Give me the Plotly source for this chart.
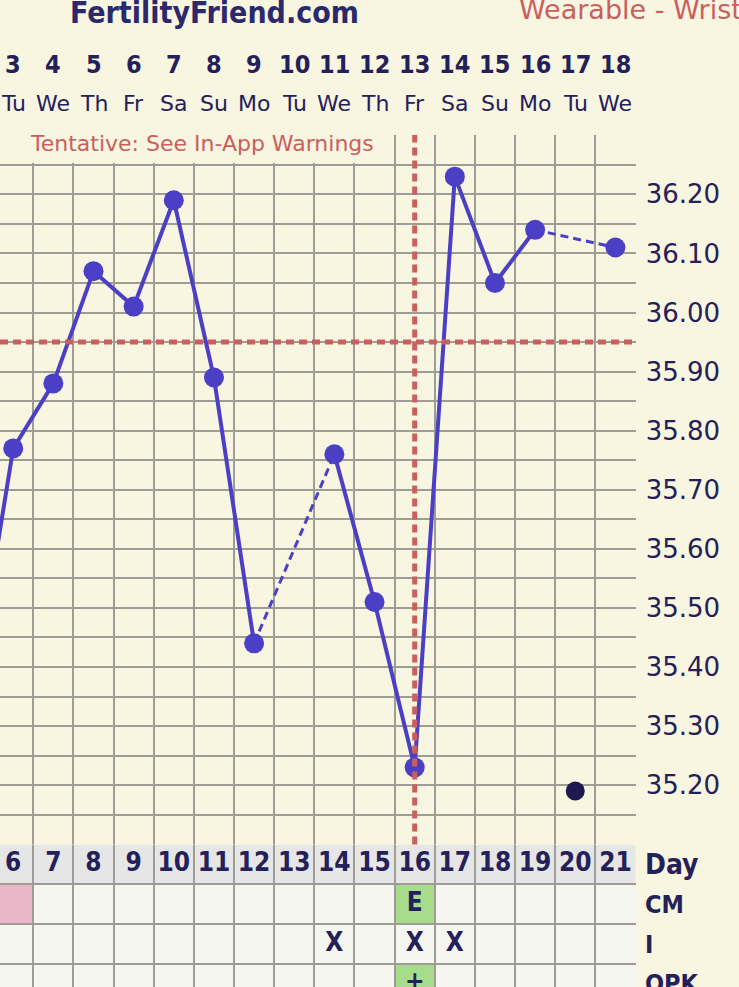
"""FertilityFriend-style BBT chart: wrist wearable temps with day table."""

import plotly.graph_objects as go
from plotly.subplots import make_subplots

W, H = 739, 987

# ---- data ----
cycle_days = list(range(6, 22))
dates = list(range(3, 19))
weekdays = ["Tu", "We", "Th", "Fr", "Sa", "Su", "Mo", "Tu",
            "We", "Th", "Fr", "Sa", "Su", "Mo", "Tu", "We"]

temp_days = [5, 6, 7, 8, 9, 10, 11, 12, 14, 15, 16, 17, 18, 19, 21]
temps = [35.35, 35.77, 35.88, 36.07, 36.01, 36.19, 35.89, 35.44,
         35.76, 35.51, 35.23, 36.23, 36.05, 36.14, 36.11]
# segments joined with a dashed line (gap days)
dashed_pairs = [(12, 14), (19, 21)]

discarded_days = [20]
discarded_temps = [35.19]

coverline = 35.95
ovulation_day = 16

y_ticks = [35.10, 35.15, 35.20, 35.25, 35.30, 35.35, 35.40, 35.45, 35.50,
           35.55, 35.60, 35.65, 35.70, 35.75, 35.80, 35.85, 35.90, 35.95,
           36.00, 36.05, 36.10, 36.15, 36.20, 36.25, 36.30]
y_labels = ["", "", "35.20", "", "35.30", "", "35.40", "", "35.50",
            "", "35.60", "", "35.70", "", "35.80", "", "35.90", "",
            "36.00", "", "36.10", "", "36.20", "", ""]

cm_days = [16]
cm_text = ["E"]
cm_fill = {6: "#e9b7c7", 16: "#a8dc8d"}
intercourse_days = [14, 16, 17]
opk_days = [16]
opk_text = ["+"]
opk_fill = {16: "#a8dc8d"}
row_names = ["Day", "CM", "I", "OPK"]

# ---- style ----
BG = "#f8f5e0"
CELL = "#f6f6f1"
DAYROW = "#e6e6e6"
GRID = "#9d9d95"
NAVY = "#24205a"
BLUE = "#4a3fc5"
RED = "#c9605e"
BOLD_FONT = "DejaVu Sans Condensed, DejaVu Sans, sans-serif"
FONT = "DejaVu Sans, Verdana, sans-serif"


def py(px):
    return 1 - px / H


plot_right = 635.7 / W
chart_top, chart_bottom = 135, 844.5
row_px = 39.8
x_range = [5.671, 21.505]
y_range = [35.0995, 36.3005]
px_per_day = 635.7 / (x_range[1] - x_range[0])
px_per_deg = (chart_bottom - chart_top) / (y_range[1] - y_range[0])


def dx(px):
    return x_range[0] + px / px_per_day


def dy(px):
    return y_range[1] - (px - chart_top) / px_per_deg


fig = make_subplots(rows=2, cols=1, shared_xaxes=True, vertical_spacing=0)

# solid line segments (break where dashed)
solid_x, solid_y = [], []
for i, (d, t) in enumerate(zip(temp_days, temps)):
    if i > 0 and (temp_days[i - 1], d) in dashed_pairs:
        solid_x.append(None)
        solid_y.append(None)
    solid_x.append(d)
    solid_y.append(t)

fig.add_trace(go.Scatter(
    x=solid_x, y=solid_y, mode="lines",
    line=dict(color=BLUE, width=4), connectgaps=False,
    hoverinfo="skip", showlegend=False,
), row=1, col=1)

dash_x, dash_y = [], []
for a, b in dashed_pairs:
    dash_x += [a, b, None]
    dash_y += [temps[temp_days.index(a)], temps[temp_days.index(b)], None]

fig.add_trace(go.Scatter(
    x=dash_x, y=dash_y, mode="lines",
    line=dict(color=BLUE, width=3, dash="8px,5px"),
    hoverinfo="skip", showlegend=False,
), row=1, col=1)

fig.add_trace(go.Scatter(
    x=temp_days, y=temps, mode="markers",
    marker=dict(color=BLUE, size=20),
    showlegend=False,
), row=1, col=1)

fig.add_trace(go.Scatter(
    x=discarded_days, y=discarded_temps, mode="markers",
    marker=dict(color="#1d1a4f", size=19),
    showlegend=False,
), row=1, col=1)

# coverline and ovulation line
fig.add_shape(type="line", xref="x domain", yref="y", x0=0, x1=1,
              y0=coverline, y1=coverline,
              line=dict(color=RED, width=5, dash="8px,5px"))
fig.add_shape(type="line", xref="x", yref="y domain",
              x0=ovulation_day, x1=ovulation_day, y0=0, y1=1,
              line=dict(color=RED, width=5, dash="8px,5px"))

# box behind the tentative note (hides the grid there)
fig.add_shape(type="rect", xref="x", yref="y",
              x0=dx(20), x1=dx(393), y0=dy(163), y1=dy(130),
              fillcolor=BG, line_width=0, layer="between")

# ---- table ----
fig.add_shape(type="rect", xref="x2", yref="y2", x0=5.5, x1=21.5,
              y0=0, y1=5, fillcolor=CELL, line_width=0, layer="below")
fig.add_shape(type="rect", xref="x2", yref="y2", x0=5.5, x1=21.5,
              y0=0, y1=1, fillcolor=DAYROW, line_width=0, layer="below")
for d, c in cm_fill.items():
    fig.add_shape(type="rect", xref="x2", yref="y2", x0=d - 0.5, x1=d + 0.5,
                  y0=1, y1=2, fillcolor=c, line_width=0, layer="below")
for d, c in opk_fill.items():
    fig.add_shape(type="rect", xref="x2", yref="y2", x0=d - 0.5, x1=d + 0.5,
                  y0=3, y1=4, fillcolor=c, line_width=0, layer="below")

cell_font = dict(family=BOLD_FONT, size=26, color=NAVY, weight="bold")
fig.add_trace(go.Scatter(
    x=cycle_days, y=[0.5] * len(cycle_days), mode="text",
    text=[str(d) for d in cycle_days], textfont=cell_font,
    hoverinfo="skip", showlegend=False, cliponaxis=False,
), row=2, col=1)
fig.add_trace(go.Scatter(
    x=cm_days, y=[1.5] * len(cm_days), mode="text", text=cm_text,
    textfont=cell_font, hoverinfo="skip", showlegend=False,
), row=2, col=1)
fig.add_trace(go.Scatter(
    x=intercourse_days, y=[2.5] * len(intercourse_days), mode="text",
    text=["X"] * len(intercourse_days), textfont=cell_font,
    hoverinfo="skip", showlegend=False,
), row=2, col=1)
fig.add_trace(go.Scatter(
    x=opk_days, y=[3.5] * len(opk_days), mode="text", text=opk_text,
    textfont=cell_font, hoverinfo="skip", showlegend=False,
    cliponaxis=False,
), row=2, col=1)

for i, name in enumerate(row_names):
    fig.add_annotation(
        x=643 / W, xref="paper", y=i + 0.5, yref="y2",
        text=name, showarrow=False, xanchor="left", yanchor="middle",
        font=dict(family=BOLD_FONT, size=28 if name == "Day" else 25,
                  color=NAVY, weight="bold"),
    )

# ---- header ----
for d, dt, wd in zip(cycle_days, dates, weekdays):
    fig.add_annotation(x=d, xref="x", y=py(64), yref="paper", text=str(dt),
                       showarrow=False, yanchor="middle",
                       font=dict(family=BOLD_FONT, size=25, color=NAVY,
                                 weight="bold"))
    fig.add_annotation(x=d, xref="x", y=py(103), yref="paper", text=wd,
                       showarrow=False, yanchor="middle",
                       font=dict(family=FONT, size=22, color=NAVY))

fig.add_annotation(x=68 / W, xref="paper", y=py(13), yref="paper",
                   text="FertilityFriend.com", showarrow=False,
                   xanchor="left", yanchor="middle",
                   font=dict(family=BOLD_FONT, size=30, color="#2b296b",
                             weight="bold"))
fig.add_annotation(x=517 / W, xref="paper", y=py(10), yref="paper",
                   text="Wearable - Wrist", showarrow=False,
                   xanchor="left", yanchor="middle",
                   font=dict(family=FONT, size=27, color=RED))
fig.add_annotation(x=28 / W, xref="paper", y=py(143), yref="paper",
                   text="Tentative: See In-App Warnings", showarrow=False,
                   xanchor="left", yanchor="middle",
                   font=dict(family=FONT, size=22, color=RED))

# ---- axes ----
x_grid = [d + 0.5 for d in [5] + cycle_days]
for ax in ("xaxis", "xaxis2"):
    fig.layout[ax].update(
        domain=[0, plot_right], range=x_range,
        tickmode="array", tickvals=x_grid, showticklabels=False, ticks="",
        showgrid=True, gridcolor=GRID, gridwidth=2, zeroline=False,
    )

fig.update_layout(
    yaxis=dict(
        domain=[py(chart_bottom), py(chart_top)],
        range=y_range, side="right",
        tickmode="array", tickvals=y_ticks, ticktext=y_labels,
        ticks="", ticklabelstandoff=9,
        tickfont=dict(family=FONT, size=26, color=NAVY),
        showgrid=True, gridcolor=GRID, gridwidth=2, zeroline=False,
    ),
    yaxis2=dict(
        domain=[0, py(chart_bottom)],
        range=[(H - chart_bottom) / row_px, -0.002],
        tickmode="array", tickvals=[0, 1, 2, 3, 4], showticklabels=False,
        ticks="", showgrid=True, gridcolor=GRID, gridwidth=2, zeroline=False,
    ),
    width=W, height=H,
    margin=dict(l=0, r=0, t=0, b=0),
    paper_bgcolor=BG, plot_bgcolor=BG,
    showlegend=False,
)

fig.write_html("out.html",
               config={"displayModeBar": False},
               post_script="document.body.style.margin='0';")
